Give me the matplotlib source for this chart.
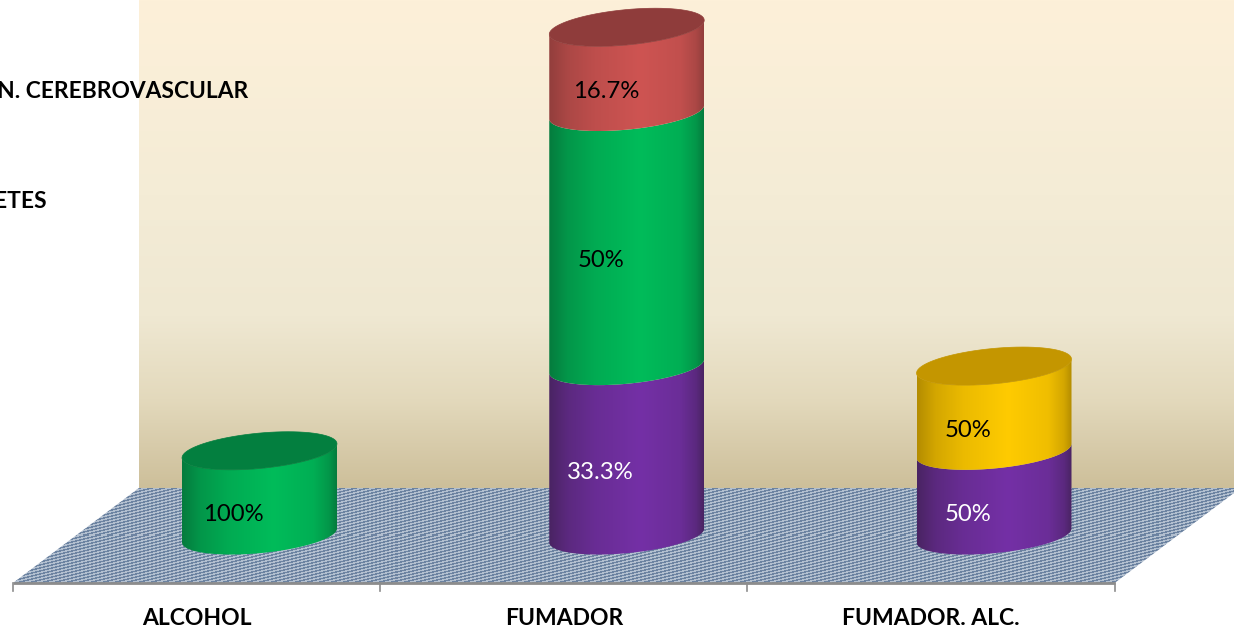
import numpy as np
import matplotlib
matplotlib.use('Agg')
import matplotlib.pyplot as plt
from matplotlib.colors import to_rgb
from matplotlib.path import Path
from matplotlib.patches import PathPatch

plt.rcParams['font.family'] = ['Lato', 'DejaVu Sans']

# Casos por tipo de habito
categorias = ['ALCOHOL', 'FUMADOR', 'FUMADOR. ALC.']
casos_morado = [0, 2, 1]
casos_verde = [1, 3, 0]
casos_rojo = [0, 1, 0]
casos_amarillo = [0, 0, 1]

# (oscuro del borde, claro del centro, tapa, color de la etiqueta)
colores = [
    (casos_morado, '#47235F', '#7430A6', '#5F2A88', 'white'),
    (casos_verde, '#05783C', '#00BC5A', '#037F3F', 'black'),
    (casos_rojo, '#8F3D3B', '#CE5452', '#8F3C3B', 'black'),
    (casos_amarillo, '#B08900', '#FFCB00', '#C49600', 'black'),
]

# medidas del cilindro y de la perspectiva, en unidades de los ejes
RADIO_X = 0.211
RADIO_Y = 0.209
INCLINACION = 0.083
FONDO_X = 0.1715
FONDO_Y = 0.5608
XLIM = (-0.7066, 2.6535)
YLIM = (-1.1275, 6.322)

fig = plt.figure(figsize=(12.34, 6.31), dpi=100)
ax = fig.add_axes([0, 0, 1, 1])
ax.axis('off')


def rellenar(rgb, extent, path, z, interp='bilinear'):
    im = ax.imshow(rgb, extent=extent, aspect='auto', origin='upper', zorder=z, interpolation=interp)
    im.set_clip_path(PathPatch(path, transform=ax.transData))


def arco(x, y, t0, t1):
    t = np.linspace(t0, t1, 80)
    return np.column_stack([x + RADIO_X * np.cos(t), y + RADIO_Y * np.sin(t) + INCLINACION * np.cos(t)])


# pared del fondo con degradado vertical
izq_fondo = -0.5 + FONDO_X
der_fondo = 2.5 + FONDO_X
pos = [0.0, 0.40, 0.65, 0.82, 1.0]
tonos = ['#FDF0D9', '#F4ECD6', '#EFE8D2', '#E3D9BC', '#CDBF9A']
u = np.linspace(0, 1, 256)
pared = np.stack([np.interp(u, pos, [to_rgb(c)[k] for c in tonos]) for k in range(3)], axis=1)[:, None, :]
ax.imshow(pared, extent=(izq_fondo, der_fondo, FONDO_Y, YLIM[1]), aspect='auto', zorder=1, interpolation='bilinear')

# suelo con trama fina en diagonal, una celda por pixel
yy, xx = np.mgrid[0:95, 0:1227]
trama = (xx + 4 * yy) % 12 < 6
claro = np.array(to_rgb('#B2BFCF'))
oscuro = np.array(to_rgb('#6C83A1'))
textura = np.where(trama[..., None], claro, oscuro)
esquinas = [(-0.5 - FONDO_X, -FONDO_Y), (2.5 - FONDO_X, -FONDO_Y), (der_fondo, FONDO_Y), (izq_fondo, FONDO_Y)]
rellenar(textura, (-0.5 - FONDO_X, der_fondo, -FONDO_Y, FONDO_Y), Path(esquinas + [esquinas[0]]), 2, 'nearest')

# eje frontal y marcas
ax.plot([-0.5 - FONDO_X, 2.5 - FONDO_X], [-FONDO_Y, -FONDO_Y], color='#8C8C8C', lw=2, zorder=3, solid_capstyle='butt')
for i in range(len(categorias) + 1):
    xm = i - 0.5 - FONDO_X
    ax.plot([xm, xm], [-FONDO_Y, -FONDO_Y - 0.09], color='#8C8C8C', lw=1.2, zorder=3)

for i, cat in enumerate(categorias):
    ax.text(i - FONDO_X, -0.98, cat, ha='center', va='center', fontsize=16.5, fontweight='bold', color='black', zorder=6)

# degradado horizontal del lateral de cada cilindro
g_pos = [0.0, 0.12, 0.30, 0.59, 0.85, 0.95, 1.0]
g_val = [0.05, 0.45, 0.75, 1.0, 0.80, 0.45, 0.05]
z = 10
for i in range(len(categorias)):
    total = sum(serie[0][i] for serie in colores)
    base = 0
    for serie, borde, centro, tapa, color_txt in colores:
        valor = serie[i]
        if valor == 0:
            continue
        techo = base + valor
        g = np.interp(u, g_pos, g_val)[:, None]
        grad = (np.array(to_rgb(borde)) * (1 - g) + np.array(to_rgb(centro)) * g)[None, :, :]
        abajo = arco(i, base, np.pi, 2 * np.pi)
        arriba = arco(i, techo, 2 * np.pi, np.pi)
        verts = np.vstack([abajo, arriba, abajo[:1]])
        ymin = base - 0.3
        ymax = techo + 0.3
        rellenar(grad, (i - RADIO_X, i + RADIO_X, ymin, ymax), Path(verts), z)
        z += 1
        if techo == total:
            ax.fill(*arco(i, techo, 0, 2 * np.pi).T, color=tapa, lw=0.5, zorder=z)
            z += 1
        pct = 100 * valor / total
        txt = f'{pct:.1f}'.removesuffix('.0') + '%'
        dx = -0.071 + (0.014 if txt == '16.7%' else 0)
        ax.text(i + dx, (base + techo) / 2 - 0.255, txt, ha='center', va='center', fontsize=17.2, color=color_txt, zorder=50)
        base = techo

# leyenda, queda cortada por el borde izquierdo
ax.text(-0.0313, 5.24, 'EN. CEREBROVASCULAR', ha='right', va='center', fontsize=16.4, fontweight='bold', color='black', zorder=60)
ax.text(-0.579, 3.94, 'DIABETES', ha='right', va='center', fontsize=16.4, fontweight='bold', color='black', zorder=60)

ax.set_xlim(XLIM)
ax.set_ylim(YLIM)
fig.savefig('out.png', dpi=100)
